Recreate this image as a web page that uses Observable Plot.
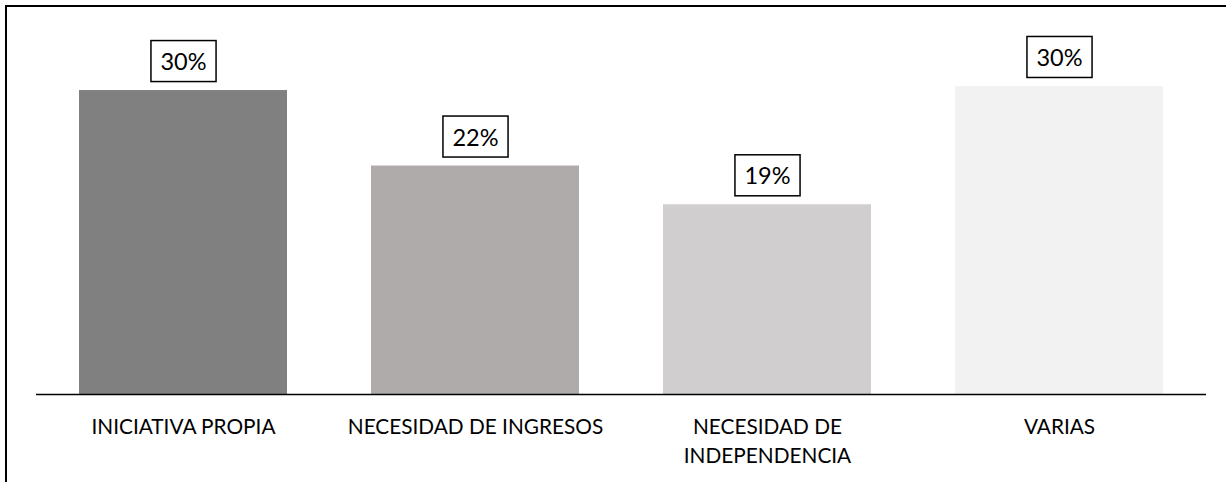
<!DOCTYPE html>
<html>
<head>
<meta charset="utf-8">
<script src="https://cdn.jsdelivr.net/npm/d3@7"></script>
<script src="https://cdn.jsdelivr.net/npm/@observablehq/plot@0.6"></script>
<style>
  html, body { margin: 0; padding: 0; background: #fff; }
  #frame {
    position: absolute; left: 5px; top: 5px;
    width: 1221px; height: 477px;
    border-top: 2px solid #000; border-left: 2px solid #000;
    box-sizing: border-box; overflow: hidden;
  }
  #chart svg { display: block; }
</style>
</head>
<body>
<div id="frame"><div id="chart"></div></div>
<script>
const categories = ["INICIATIVA PROPIA", "NECESIDAD DE INGRESOS", "NECESIDAD DE INDEPENDENCIA", "VARIAS"];
const tickLabels = ["INICIATIVA PROPIA", "NECESIDAD DE INGRESOS", "NECESIDAD DE\nINDEPENDENCIA", "VARIAS"];
const values = [29.8, 22.4, 18.6, 30.2];
const valueLabels = ["30%", "22%", "19%", "30%"];
const colors = ["#808080", "#AFABAB", "#D0CECE", "#F2F2F2"];

const data = categories.map((c, i) => ({cat: c, value: values[i], label: valueLabels[i], color: colors[i]}));
const FONT = "Lato, 'Open Sans', sans-serif";

const plot = Plot.plot({
  width: 1219,
  height: 475,
  marginLeft: 29,
  marginRight: 20,
  marginTop: 9.6,
  marginBottom: 88,
  style: {fontFamily: FONT, background: "#fff", color: "#000"},
  x: {domain: categories, paddingInner: 0.289, paddingOuter: 0.1445, align: 0.5, axis: null},
  y: {domain: [0, 37], axis: null},
  marks: [
    Plot.barY(data, {x: "cat", y: "value", fill: "color"}),
    Plot.ruleY([0], {stroke: "#000", strokeWidth: 1.5}),
    Plot.axisX({
      tickSize: 0,
      tickPadding: 19,
      tickFormat: (d) => tickLabels[categories.indexOf(d)],
      fontSize: 20.8,
      lineHeight: 1.38,
      fill: "#000",
      label: null
    }),
    Plot.text(data, {
      x: "cat", y: "value", text: "label",
      dy: -28, lineAnchor: "middle",
      fontSize: 23.5, fill: "#000"
    })
  ]
});
document.getElementById("chart").appendChild(plot);

// draw a boxed background behind each value label
const labelSet = new Set(valueLabels);
plot.querySelectorAll("text").forEach((t) => {
  if (!labelSet.has(t.textContent.trim())) return;
  const b = t.getBBox();
  const padX = 9.5, h = 41;
  const cy = b.y + b.height / 2;
  const r = document.createElementNS("http://www.w3.org/2000/svg", "rect");
  r.setAttribute("x", b.x - padX);
  r.setAttribute("y", cy - h / 2);
  r.setAttribute("width", b.width + 2 * padX);
  r.setAttribute("height", h);
  r.setAttribute("fill", "#fff");
  r.setAttribute("stroke", "#000");
  r.setAttribute("stroke-width", 1.5);
  const tr = t.getAttribute("transform");
  if (tr) r.setAttribute("transform", tr);
  t.parentNode.insertBefore(r, t);
});
</script>
</body>
</html>
